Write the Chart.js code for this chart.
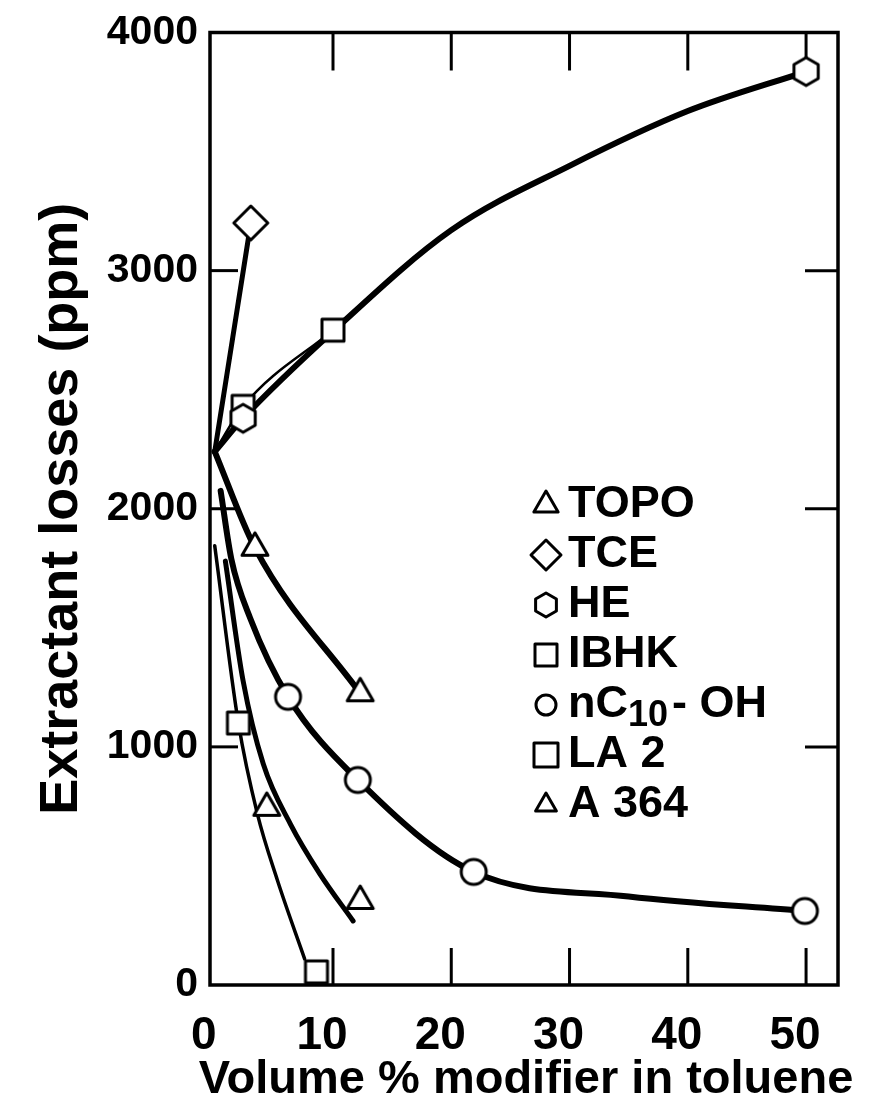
<!DOCTYPE html>
<html>
<head>
<meta charset="utf-8">
<script src="https://cdn.jsdelivr.net/npm/chart.js@4.4.1/dist/chart.umd.min.js"></script>
<style>
	html, body { margin: 0; padding: 0; background: #fff; }
	#wrap { width: 871px; height: 1101px; }
</style>
</head>
<body>
<div id="wrap"><canvas id="myChart" width="871" height="1101"></canvas></div>
<script>
// ejes
const xTicks = [0, 10, 20, 30, 40, 50];
const xTickLabels = ['0', '10', '20', '30', '40', '50'];
const yTicks = [0, 1000, 2000, 3000, 4000];
const yTickLabels = ['0', '1000', '2000', '3000', '4000'];
const xTitle = 'Volume % modifier in toluene';
const yTitle = 'Extractant losses (ppm)';

// curvas (puntos por donde pasa cada linea)
const tceX = [0, 3.05];
const tceY = [2240, 3200];
const heX = [0, 2.4, 10, 20, 30, 40, 50];
const heY = [2240, 2380, 2745, 3170, 3440, 3670, 3836];
const ibhkX = [0, 2.4, 10];
const ibhkY = [2240, 2430, 2750];
const topoX = [0, 3.4, 12.3];
const topoY = [2240, 1836, 1225];
const nc10X = [0.5, 1.4, 3.0, 6.2, 12.1, 21.9, 35, 49.9];
const nc10Y = [2075, 1790, 1540, 1210, 861, 475, 372, 311];
const la2X = [0, 2.0, 3.6, 5.3, 7.6];
const la2Y = [1845, 1100, 720, 440, 110];
const a364X = [0.9, 2.4, 4.1, 6.4, 8.9, 11.7];
const a364Y = [1780, 1277, 929, 676, 466, 269];

// marcadores
const tceMX = [3.05];
const tceMY = [3200];
const heMX = [2.4, 50];
const heMY = [2380, 3836];
const ibhkMX = [2.4, 10];
const ibhkMY = [2430, 2750];
const topoMX = [3.4, 12.3];
const topoMY = [1836, 1225];
const nc10MX = [6.2, 12.1, 21.9, 49.9];
const nc10MY = [1210, 861, 475, 311];
const la2MX = [2.0, 8.6];
const la2MY = [1100, 55];
const a364MX = [4.4, 12.3];
const a364MY = [744, 353];

// leyenda
const legendNames = ['TOPO', 'TCE', 'HE', 'IBHK', 'nC|10|- OH', 'LA 2', 'A 364'];

const FONT = "'Liberation Sans', sans-serif";

// dibuja un marcador hueco en un canvas aparte
function makeMarker(shape, r, lw) {
	const pad = Math.ceil(lw) + 2;
	const size = Math.ceil(2 * r + 2 * pad);
	const c = document.createElement('canvas');
	c.width = size;
	c.height = size;
	const g = c.getContext('2d');
	const cx = size / 2, cy = size / 2;
	g.beginPath();
	if (shape === 'circle') {
		g.arc(cx, cy, r, 0, Math.PI * 2);
	} else if (shape === 'square') {
		g.rect(cx - r, cy - r, 2 * r, 2 * r);
	} else {
		const n = shape === 'triangle' ? 3 : shape === 'diamond' ? 4 : 6;
		for (let k = 0; k < n; k++) {
			const a = -Math.PI / 2 + k * 2 * Math.PI / n;
			const px = cx + r * Math.cos(a), py = cy + r * Math.sin(a);
			k ? g.lineTo(px, py) : g.moveTo(px, py);
		}
		g.closePath();
	}
	g.fillStyle = '#fff';
	g.fill();
	g.lineWidth = lw;
	g.lineJoin = 'round';
	g.strokeStyle = '#000';
	g.stroke();
	return c;
}

const pts = (xs, ys) => xs.map((x, i) => ({ x: x, y: ys[i] }));

const lineSet = (xs, ys, w) => ({
	data: pts(xs, ys),
	showLine: true,
	borderColor: '#000',
	borderWidth: w,
	pointRadius: 0,
	cubicInterpolationMode: 'monotone',
	borderCapStyle: 'round',
	order: 2
});

const markSet = (xs, ys, img) => ({
	data: pts(xs, ys),
	showLine: false,
	pointStyle: img,
	pointRadius: 10,
	order: 1
});

const legendSymbols = [
	makeMarker('triangle', 14, 3),
	makeMarker('diamond', 15, 3),
	makeMarker('hexagon', 12, 3),
	makeMarker('square', 11, 3),
	makeMarker('circle', 10, 3),
	makeMarker('square', 12, 3),
	makeMarker('triangle', 12, 3)
];

// marco completo con marcas hacia adentro
const framePlugin = {
	id: 'frame',
	beforeDatasetsDraw(chart) {
		const { ctx, chartArea: a, scales } = chart;
		const seg = (x1, y1, x2, y2) => { ctx.beginPath(); ctx.moveTo(x1, y1); ctx.lineTo(x2, y2); ctx.stroke(); };
		ctx.save();
		ctx.strokeStyle = '#000';
		ctx.lineWidth = 3.5;
		ctx.strokeRect(a.left, a.top, a.right - a.left, a.bottom - a.top);
		ctx.lineWidth = 3;
		xTicks.forEach(v => {
			if (v === 0) return;
			const px = scales.x.getPixelForValue(v);
			seg(px, a.top, px, a.top + 38);
			seg(px, a.bottom, px, a.bottom - 37);
		});
		yTicks.forEach(v => {
			if (v === 0 || v === 4000) return;
			const py = scales.y.getPixelForValue(v);
			seg(a.left, py, a.left + 28, py);
			seg(a.right, py, a.right - 33, py);
		});
		ctx.restore();
	}
};

// leyenda dentro del grafico y titulo del eje x (mas ancho que el area)
const textPlugin = {
	id: 'texts',
	afterDraw(chart) {
		const ctx = chart.ctx;
		ctx.save();
		ctx.fillStyle = '#000';
		ctx.textBaseline = 'middle';
		legendNames.forEach((name, i) => {
			const ly = 505 + i * 50;
			const sym = legendSymbols[i];
			ctx.drawImage(sym, 546 - sym.width / 2, ly - sym.height / 2);
			let tx = 568;
			name.split('|').forEach((part, k) => {
				const sub = k === 1;
				ctx.font = 'bold ' + (sub ? 36 : 45) + 'px ' + FONT;
				ctx.fillText(part, tx, ly + (sub ? 11 : 0));
				tx += ctx.measureText(part).width + (sub ? 4 : 0);
			});
		});
		ctx.font = 'bold 47px ' + FONT;
		ctx.textAlign = 'center';
		ctx.fillText(xTitle, 526, 1080);
		ctx.restore();
	}
};

const data = {
	datasets: [
		lineSet(tceX, tceY, 5),
		lineSet(heX, heY, 6),
		lineSet(ibhkX, ibhkY, 2.5),
		lineSet(topoX, topoY, 6),
		lineSet(nc10X, nc10Y, 6),
		lineSet(la2X, la2Y, 3.5),
		lineSet(a364X, a364Y, 5),
		markSet(tceMX, tceMY, makeMarker('diamond', 17, 3)),
		markSet(heMX, heMY, makeMarker('hexagon', 14, 3)),
		markSet(ibhkMX, ibhkMY, makeMarker('square', 11, 3)),
		markSet(topoMX, topoMY, makeMarker('triangle', 15, 3)),
		markSet(nc10MX, nc10MY, makeMarker('circle', 12.5, 3)),
		markSet(la2MX, la2MY, makeMarker('square', 11, 3)),
		markSet(a364MX, a364MY, makeMarker('triangle', 15, 3))
	]
};

const config = {
	type: 'line',
	data: data,
	options: {
		responsive: false,
		animation: false,
		devicePixelRatio: 1,
		events: [],
		layout: { padding: { top: 32, right: 33, left: 35, bottom: 0 } },
		plugins: {
			legend: { display: false },
			tooltip: { enabled: false }
		},
		scales: {
			x: {
				type: 'linear',
				min: -0.4,
				max: 52.7,
				afterBuildTicks: s => { s.ticks = xTicks.map(v => ({ value: v })); },
				afterFit: s => { s.height = 116; },
				grid: { display: false, drawTicks: false },
				border: { display: false },
				ticks: {
					padding: 28,
					labelOffset: -11,
					color: '#000',
					font: { family: FONT, size: 46, weight: 'bold', lineHeight: 1 },
					callback: v => xTickLabels[xTicks.indexOf(v)]
				},
				title: { display: false }
			},
			y: {
				min: 0,
				max: 4000,
				afterBuildTicks: s => { s.ticks = yTicks.map(v => ({ value: v })); },
				afterFit: s => { s.width = 175; },
				grid: { display: false, drawTicks: false },
				border: { display: false },
				ticks: {
					padding: 12,
					color: '#000',
					font: { family: FONT, size: 41, weight: 'bold', lineHeight: 1 },
					callback: v => yTickLabels[yTicks.indexOf(v)]
				},
				title: {
					display: true,
					text: yTitle,
					color: '#000',
					padding: 0,
					font: { family: FONT, size: 54, weight: 'bold', lineHeight: 1 }
				}
			}
		}
	},
	plugins: [framePlugin, textPlugin]
};

new Chart(document.getElementById('myChart'), config);
</script>
</body>
</html>
